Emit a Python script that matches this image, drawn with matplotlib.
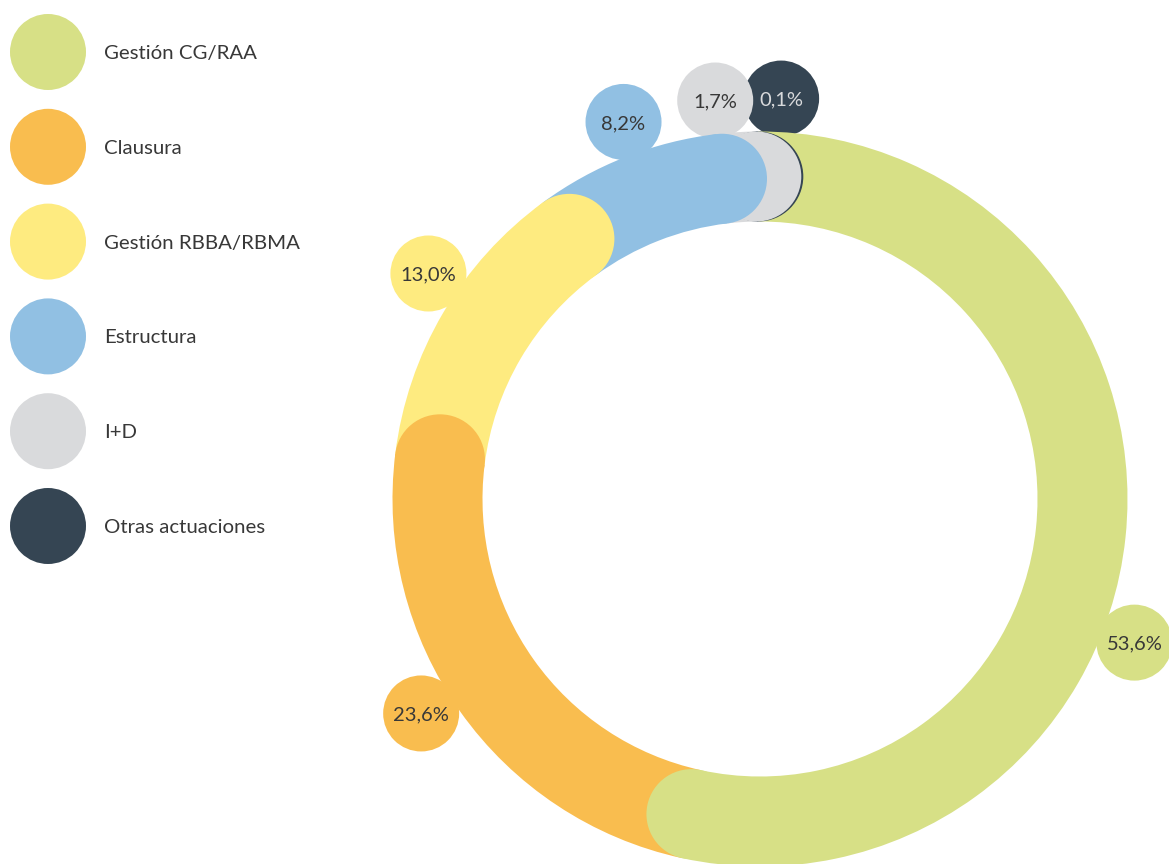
import matplotlib.pyplot as plt
from matplotlib.patches import Wedge, Circle
import numpy as np

# Shares per type of action (%)
categories = ['Gestión CG/RAA', 'Clausura', 'Gestión RBBA/RBMA', 'Estructura', 'I+D', 'Otras actuaciones']
shares = [53.6, 23.6, 13.0, 8.2, 1.7, 0.1]
share_labels = ['53,6%', '23,6%', '13,0%', '8,2%', '1,7%', '0,1%']
colors = ['#d7e086', '#f9bd4f', '#feeb80', '#91c0e3', '#d9dadc', '#354553']
text_colors = ['#383838'] * 5 + ['#d9dadc']

# layout (pixels, y up)
W, H = 1169, 864
cx, cy = 760, 365
r_out, ring_w = 367.5, 90
r_mid = r_out - ring_w / 2
start = 90.3
label_r = 401
label_nudge = [-15, -3, -3.8, -1.6, 2.7, -3.5]

plt.rcParams['font.family'] = ['Lato', 'DejaVu Sans']

fig = plt.figure(figsize=(W / 100, H / 100), dpi=100)
ax = fig.add_axes([0, 0, 1, 1])
ax.set_xlim(0, W)
ax.set_ylim(0, H)
ax.set_aspect('equal')
ax.axis('off')

vals = np.array(shares)
spans = vals / vals.sum() * 360
ends = start - np.cumsum(spans)
begins = ends + spans

# value bubbles sit behind the ring
for i in reversed(range(len(vals))):
    a = np.radians((begins[i] + ends[i]) / 2 + label_nudge[i])
    x, y = cx + label_r * np.cos(a), cy + label_r * np.sin(a)
    ax.add_patch(Circle((x, y), 38, color=colors[i], lw=0, zorder=1))
    ax.text(x, y, share_labels[i], ha='center', va='center_baseline', fontsize=14.5,
            color=text_colors[i], zorder=2)

for i in range(len(vals)):
    ax.add_patch(Wedge((cx, cy), r_out, ends[i], begins[i], width=ring_w,
                       color=colors[i], lw=0, zorder=3))

# rounded ends, last segment first so each cap overlaps the next one
for i in reversed(range(len(vals))):
    a = np.radians(ends[i])
    ax.add_patch(Circle((cx + r_mid * np.cos(a), cy + r_mid * np.sin(a)), ring_w / 2,
                        color=colors[i], lw=0, zorder=4))

# legend
for i, name in enumerate(categories):
    y = H - (52 + i * 94.8)
    ax.add_patch(Circle((48, y), 38, color=colors[i], lw=0))
    ax.text(104, y, name, ha='left', va='center_baseline', fontsize=14.7,
            color='#383838')

fig.savefig('out.png', dpi=100)
